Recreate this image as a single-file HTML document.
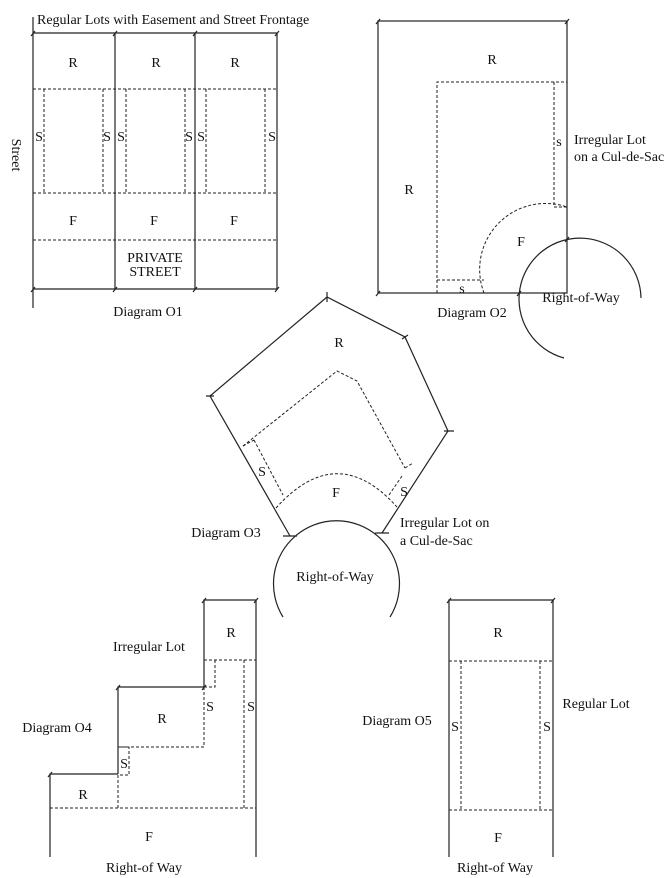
<!DOCTYPE html>
<html><head><meta charset="utf-8"><style>
html,body{margin:0;padding:0;background:#fff;}
svg{display:block;}
text{font-family:"Liberation Serif",serif;font-size:14px;fill:#111;}
</style></head><body>
<svg width="669" height="878" viewBox="0 0 669 878" xmlns="http://www.w3.org/2000/svg">
<g stroke="#222" stroke-width="1.2" fill="none">
<!-- O1 -->
<line x1="33" y1="17" x2="33" y2="308"/>
<line x1="33" y1="33" x2="277" y2="33"/>
<line x1="33" y1="289" x2="277" y2="289"/>
<line x1="277" y1="33" x2="277" y2="289"/>
<line x1="115" y1="33" x2="115" y2="289"/>
<line x1="195" y1="33" x2="195" y2="289"/>
<path d="M31 36l4-5M113 36l4-5M193 36l4-5M275 36l4-5M31 292l4-5M113 292l4-5M193 292l4-5M275 292l4-5"/>
<!-- O2 -->
<rect x="378" y="21" width="189" height="272"/>
<path d="M376 24l4-5M565 24l4-5M376 296l4-5"/>
<circle cx="580" cy="300" r="0"/>
<path d="M641 298 A61 61 0 1 0 564 358"/>
<path d="M517 296l4-5M565 242l4-5"/>
<!-- O3 -->
<polyline points="290,536 210,396 327,297 405,337 448,431 382,533"/>
<path d="M283 617 A63 63 0 1 1 390 617"/>
<path d="M283 536h14M375 533h14M327 292v10M402 339l6-4M444 431h10M206 396h8"/>
<!-- O4 -->
<polyline points="50,857 50,774 118,774"/>
<polyline points="118,774 118,687 204,687"/>
<polyline points="204,687 204,600 256,600 256,857"/>
<path d="M48 777l4-5M116 690l4-5M202 690l4-5M202 603l4-5M254 603l4-5"/>
<!-- O5 -->
<polyline points="449,857 449,600 553,600 553,857"/>
<path d="M447 603l4-5M551 603l4-5"/>
</g>
<g stroke="#222" stroke-width="1" fill="none" stroke-dasharray="3,2">
<!-- O1 -->
<line x1="33" y1="89" x2="277" y2="89"/>
<line x1="33" y1="193" x2="277" y2="193"/>
<line x1="33" y1="240" x2="277" y2="240"/>
<path d="M44 89V193M103 89V193M126 89V193M185 89V193M206 89V193M265 89V193"/>
<!-- O2 -->
<polyline points="437,293 437,82 567,82"/>
<polyline points="554,82 554,207 567,207"/>
<line x1="437" y1="280" x2="484" y2="280"/>
<path d="M484 293 A66 66 0 0 1 567 207"/>
<!-- O3 -->
<polyline points="243,446 337,371 357,381 405,468"/>
<line x1="243" y1="446" x2="254" y2="440"/>
<line x1="254" y1="440" x2="283" y2="495"/>
<path d="M276 508 Q337 440 397 507"/>
<line x1="405" y1="468" x2="413" y2="463"/>
<line x1="402" y1="476" x2="389" y2="495"/>
<!-- O4 -->
<polyline points="204,660 256,660"/>
<polyline points="215,660 215,687 204,687"/>
<polyline points="204,687 204,747 118,747"/>
<polyline points="118,747 129,747 129,775 118,775"/>
<line x1="118" y1="775" x2="118" y2="808"/>
<line x1="50" y1="808" x2="256" y2="808"/>
<line x1="244" y1="660" x2="244" y2="808"/>
<!-- O5 -->
<line x1="449" y1="661" x2="553" y2="661"/>
<line x1="449" y1="810" x2="553" y2="810"/>
<path d="M461 661V810M540 661V810"/>
</g>
<!-- labels -->
<text x="37" y="24">Regular Lots with Easement and Street Frontage</text>
<text x="12" y="155" transform="rotate(90 12 155)" text-anchor="middle">Street</text>
<g text-anchor="middle">
<text x="73" y="67">R</text><text x="156" y="67">R</text><text x="235" y="67">R</text>
<text x="39" y="141">S</text><text x="107" y="141">S</text><text x="121" y="141">S</text><text x="189" y="141">S</text><text x="201" y="141">S</text><text x="272" y="141">S</text>
<text x="73" y="225">F</text><text x="154" y="225">F</text><text x="234" y="225">F</text>
<text x="155" y="262">PRIVATE</text><text x="155" y="276">STREET</text>
<text x="148" y="316">Diagram O1</text>
<text x="492" y="64">R</text><text x="409" y="194">R</text>
<text x="559" y="146">s</text>
<text x="521" y="246">F</text>
<text x="462" y="293">s</text>
<text x="472" y="317">Diagram O2</text>
<text x="581" y="302">Right-of-Way</text>
<text x="339" y="347">R</text>
<text x="262" y="476">S</text>
<text x="336" y="497">F</text>
<text x="404" y="496">S</text>
<text x="226" y="537">Diagram O3</text>
<text x="335" y="581">Right-of-Way</text>
<text x="231" y="637">R</text>
<text x="149" y="651">Irregular Lot</text>
<text x="162" y="723">R</text>
<text x="210" y="711">S</text><text x="251" y="711">S</text>
<text x="57" y="732">Diagram O4</text>
<text x="124" y="768">S</text>
<text x="83" y="799">R</text>
<text x="149" y="841">F</text>
<text x="144" y="872">Right-of Way</text>
<text x="498" y="637">R</text>
<text x="596" y="708">Regular Lot</text>
<text x="397" y="725">Diagram O5</text>
<text x="455" y="731">S</text><text x="547" y="731">S</text>
<text x="498" y="842">F</text>
<text x="495" y="872">Right-of Way</text>
</g>
<text x="574" y="144">Irregular Lot</text>
<text x="574" y="161">on a Cul-de-Sac</text>
<text x="400" y="527">Irregular Lot on</text>
<text x="400" y="545">a Cul-de-Sac</text>
</svg>
</body></html>
